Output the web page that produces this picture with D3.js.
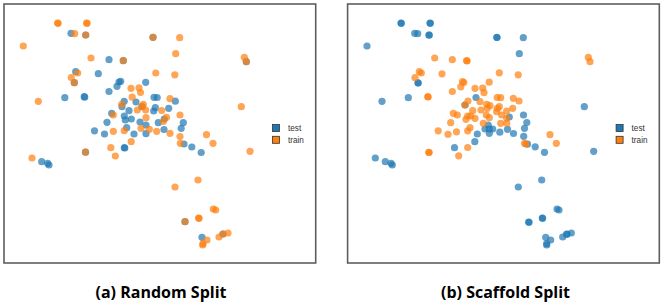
<!DOCTYPE html>
<html><head><meta charset="utf-8">
<script src="https://cdn.jsdelivr.net/npm/d3@7"></script>
<style>body{margin:0;background:#fff}svg{display:block}</style>
</head><body>
<script>
// t-SNE embedding coordinates (same embedding in both panels), y grows downward
const randomTest = [[67,29.3],[81.7,31],[149,33.3],[119.3,56.7],[105,55.7],[71.7,67.7],[70.3,78.7],[94.3,69.7],[115,78],[116.7,77.3],[113,82.3],[141.7,78.3],[105,87.5],[60.8,93.7],[80.2,92.7],[80.7,93.2],[120.2,97.3],[150,93.3],[153.2,93.5],[171.3,97.2],[118,102.7],[132,98],[138,102.7],[125,106.7],[107.7,109.3],[120.3,112],[127.3,115],[121.3,116],[136,118],[149.7,107],[151.3,103.7],[164.7,104.3],[160.3,115],[154.3,118.7],[179.3,118.7],[103,118.3],[90.5,126.8],[100.5,130],[122.7,123.7],[130,130],[142,121],[142,129.7],[160,125.5],[177.2,124.3],[180,140],[187.8,143],[197.2,148.5],[120.3,143.7],[120.8,144],[81.5,148.2],[37.7,157.7],[43.7,159.3],[45,161],[242.3,57.7],[181,217.7],[198,233.3],[219,230]];
const randomTrain = [[53.7,19],[54,19.3],[82.7,19],[83,19.3],[70.7,29.7],[81.7,31],[149,33.3],[19.3,42],[87,54],[119.3,56.7],[73.7,69],[67.3,73.5],[70.3,78.7],[151.8,69],[170.8,70.8],[175.7,33.7],[171.7,49.7],[240.3,53.3],[242.3,57.7],[237.3,102.7],[127,84.3],[135,83.8],[136.5,88.5],[128.2,93.2],[34.3,97.3],[166,94.7],[117.7,100.3],[139.3,100.3],[138,102.7],[141.7,106],[133.3,106],[109.3,111],[142,113.7],[157.7,106.5],[162.5,113.3],[159.3,117.5],[176,111],[109.3,127.3],[120.3,126.7],[137,124.3],[145.3,125.3],[152.7,127.3],[166,129.3],[176,132.5],[176.3,139.3],[202.5,130.7],[209,139.3],[246,147.3],[127.2,137.7],[106.8,143.7],[111.3,152],[81.5,148.2],[28,154],[194,176],[171,183],[209.3,205],[211.7,206],[181,217.7],[194.7,214],[195,214.3],[203,236],[199,239.7],[198.7,241],[215,233],[219,230],[224,229]];
const scaffoldTest = [[53.4,19],[53.7,19.3],[82.4,19],[82.7,19.3],[67.1,29.3],[70.1,29.7],[81.4,31],[81.6,31.2],[149.2,33.3],[149.4,33.5],[19.4,42],[175.7,33.7],[171.7,49.7],[70.4,78.8],[70.6,79],[34.4,97.3],[60.7,93.7],[128.4,93.5],[117.4,101],[236.7,102.7],[161.7,113],[175.9,111],[179.2,118.5],[140.7,121],[129.7,130],[137.4,125],[141.7,125],[141.7,129.3],[145.1,125],[152.2,128.2],[159.9,125.3],[165.9,129.5],[176.9,124.3],[176.1,132.3],[179.9,140.2],[187.6,142.8],[196.9,148.3],[127.2,137.7],[106.9,143.7],[27.7,154],[37.7,157.7],[43.4,159.3],[44.7,161],[246.1,147.3],[194.1,176],[170.7,183],[209.4,205],[211.4,206],[181.1,218],[181.4,218.3],[194.7,214],[195,214.3],[198.1,233.3],[203.1,236],[199.1,239.7],[199.1,241],[215.1,233],[219.1,230],[219.4,230.3],[223.7,229]];
const scaffoldTrain = [[87.1,54],[104.7,55.7],[119.1,56.7],[119.4,57],[71.7,67.7],[73.7,69],[67.4,73.7],[94.4,69.8],[151.7,68.8],[170.6,70.8],[114.9,77.7],[116.2,78.5],[113.2,82.8],[141.6,78.2],[104.7,87.5],[127.4,84.3],[135.1,84],[136.4,88.7],[80.2,92.7],[80.5,93],[120.4,97],[149.6,93.5],[153.1,93.7],[165.7,94.3],[171.4,97],[117.4,101],[132.4,97.7],[139.1,100.3],[139.7,104.3],[142.4,101.7],[149.7,104.3],[151.7,102.7],[159.1,107],[165.1,104.3],[125.1,106.7],[133.4,106],[105.7,109.3],[109.7,111],[120.1,112],[123.1,112],[118.4,115.3],[127.4,114.3],[138.7,111],[141.7,113.7],[149.1,107.7],[154.1,111],[159.1,114.3],[159.2,119.3],[153.1,119.3],[135.7,119.3],[103.1,118.7],[90.6,126.8],[100.4,130.3],[108.9,127.8],[120.1,126.8],[122.4,123.7],[176.9,139.3],[178.4,140],[202.4,130.7],[208.7,139.3],[120.1,143.5],[111.1,151.8],[81.2,148.3],[81.5,148.5],[240.7,53.3],[242.4,57.7]];
const seriesNames = ["test", "train"];
const captions = ["(a) Random Split", "(b) Scaffold Split"];

const W = 664, H = 304;
const svg = d3.select("body").append("svg").attr("width", W).attr("height", H);
const color = d3.scaleOrdinal().domain(seriesNames).range(["#1f77b4", "#ff7f0e"]);

const panels = [
  {left: 4, data: {test: randomTest, train: randomTrain}, caption: captions[0], cx: 161},
  {left: 347.6, data: {test: scaffoldTest, train: scaffoldTrain}, caption: captions[1], cx: 505.5}
];
const pw = 311.7, panelTop = 4, ph = 259;

panels.forEach(p => {
  const x = d3.scaleLinear().domain([0, pw]).range([p.left, p.left + pw]);
  const y = d3.scaleLinear().domain([0, ph]).range([panelTop, panelTop + ph]);
  const g = svg.append("g");
  g.append("rect").attr("x", p.left).attr("y", panelTop).attr("width", pw).attr("height", ph)
    .attr("fill", "#fff").attr("stroke", "#5e5e5e").attr("stroke-width", 1.6);
  seriesNames.forEach(s => {
    g.append("g").selectAll("circle").data(p.data[s]).join("circle")
      .attr("cx", d => x(d[0])).attr("cy", d => y(d[1])).attr("r", 3.6)
      .attr("fill", color(s)).attr("fill-opacity", 0.7);
  });
  const lg = g.append("g").attr("transform", `translate(${p.left + 268.5},${panelTop + 120.5})`);
  seriesNames.forEach((s, i) => {
    lg.append("rect").attr("x", 0).attr("y", i * 11.8).attr("width", 7).attr("height", 7)
      .attr("fill", color(s)).attr("stroke", "#333").attr("stroke-width", 0.8);
    lg.append("text").attr("x", 15.5).attr("y", i * 11.8 + 6.6).text(s)
      .attr("font-family", "Liberation Sans, Arial, sans-serif").attr("font-size", 8.2).attr("fill", "#333");
  });
  svg.append("text").attr("x", p.cx).attr("y", 298).attr("text-anchor", "middle")
    .attr("font-family", "'Open Sans', sans-serif").attr("font-weight", "bold")
    .attr("font-size", 16).attr("fill", "#000").text(p.caption);
});
</script>
</body></html>
